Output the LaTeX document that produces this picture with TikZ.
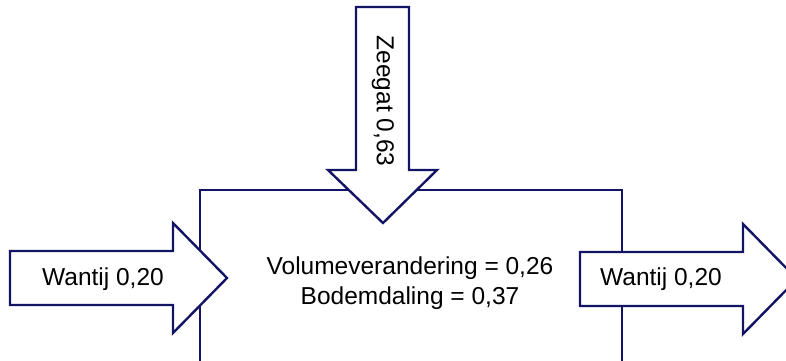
\documentclass[tikz,border=0pt]{standalone}
\usepackage{fontspec}
\setmainfont{Liberation Sans}
\definecolor{navy}{RGB}{20,20,100}
\begin{document}
\begin{tikzpicture}[x=1pt,y=-1pt,
  outline/.style={draw=navy,line width=2.4pt,line join=miter},
  arrowshape/.style={outline,fill=white},
  lbl/.style={font=\fontsize{24.5}{30}\selectfont,text=black,inner sep=0pt,align=center}]
\useasboundingbox (0,0) rectangle (786,360);
\clip (0,0) rectangle (786,360);
% basin outline (open at the bottom)
\coordinate (bl) at (200,362);
\coordinate (tl) at (200,190);
\coordinate (tr) at (622,190);
\coordinate (br) at (622,362);
\draw[outline] (bl) -- (tl) -- (tr) -- (br);
% top arrow (Zeegat)
\draw[arrowshape] (356,7) -- (409,7) -- (409,170) -- (437,170) -- (383,223) -- (328,170) -- (356,170) -- cycle;
% left arrow (Wantij in)
\draw[arrowshape] (10,251) -- (173,251) -- (173,223) -- (227,278) -- (173,333) -- (173,305) -- (10,305) -- cycle;
% right arrow (Wantij out)
\draw[arrowshape] (580,252) -- (743,252) -- (743,224) -- (797,279) -- (743,334) -- (743,306) -- (580,306) -- cycle;
% labels
\node[lbl,rotate=-90] (zeegat) at (383,101) {Zeegat 0,63};
\node[lbl] (win) at (103,279) {Wantij 0,20};
\node[lbl] (wout) at (661,279) {Wantij 0,20};
\node[lbl] (balans) at (410,283) {Volumeverandering = 0,26\\Bodemdaling = 0,37};
\end{tikzpicture}
\end{document}
